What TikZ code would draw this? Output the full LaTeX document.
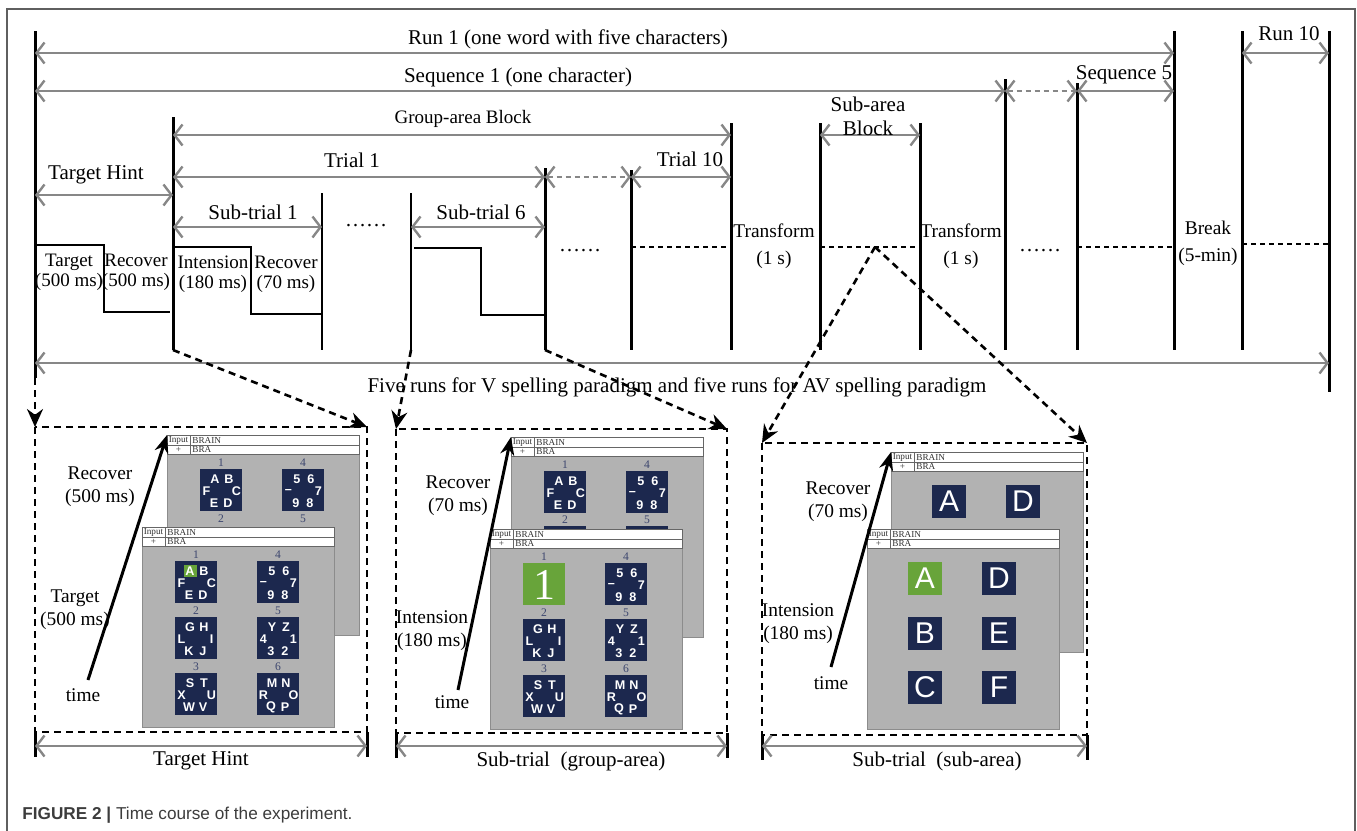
\documentclass[tikz,border=0pt]{standalone}
\usepackage{fontspec}
\setmainfont{Liberation Serif}
\setsansfont{Liberation Sans}
\usetikzlibrary{arrows.meta,positioning,calc}
\definecolor{spangray}{RGB}{135,135,135}
\definecolor{tilenavy}{RGB}{28,40,78}
\definecolor{hlgreen}{RGB}{104,164,58}
\definecolor{scrgray}{RGB}{178,178,178}
\definecolor{scrline}{RGB}{140,140,140}
\definecolor{numslate}{RGB}{60,70,110}
\definecolor{framegray}{RGB}{95,95,95}
\definecolor{capgray}{RGB}{60,60,60}
\newcommand{\grouprest}{4/1/0/5/6/7/8/9/\textendash, 2/0/1/G/H/I/J/K/L, 5/1/1/Y/Z/1/2/3/4, 3/0/2/S/T/U/V/W/X, 6/1/2/M/N/O/P/Q/R}

\begin{document}
\begin{tikzpicture}[x=0.5pt, y=-0.5pt,
    >={Straight Barb[length=4pt,width=10.5pt]},
    vline/.style={line width=1.5pt},
    vthin/.style={line width=0.9pt},
    span/.style={draw=spangray, line width=1.2pt, <->},
    spandash/.style={span, dash pattern=on 2.5pt off 2pt},
    wave/.style={line width=1.3pt},
    idle/.style={line width=1.4pt, dash pattern=on 2.5pt off 2pt},
    zoomline/.style={line width=1.3pt, dash pattern=on 3.5pt off 2.5pt, -{Stealth[length=9pt,width=8pt]}},
    panel/.style={line width=1.3pt, dash pattern=on 3.5pt off 2.5pt},
    timearr/.style={line width=1.5pt, -{Stealth[length=9pt,width=7pt]}},
    toplabel/.style={font=\fontsize{10.5}{12}\selectfont, inner sep=0pt},
    steplabel/.style={font=\fontsize{9.5}{10}\selectfont, align=center, inner sep=0pt},
    waitlabel/.style={font=\fontsize{9.7}{13.5}\selectfont, align=center, inner sep=0pt},
    plabel/.style={font=\fontsize{9.7}{11.5}\selectfont, align=center, inner sep=0pt},
    hdrtext/.style={font=\fontsize{4.6}{5}\selectfont, inner sep=0pt, text=black!80},
    hdrline/.style={draw=black!60, line width=0.3pt},
    tnum/.style={font=\fontsize{5.8}{6}\selectfont, text=numslate, inner sep=0pt},
    tchar/.style={font=\fontsize{6.3}{6}\sffamily\bfseries, text=white, inner sep=0pt},
    schar/.style={font=\fontsize{15}{15}\sffamily, text=white, inner sep=0pt},
    bigone/.style={font=\fontsize{22}{22}\selectfont, text=white, inner sep=0pt},
    screen/.pic={
      \coordinate (-nw) at (0,0);
      \fill[scrgray] (0,0) rectangle (192,200);
      \draw[draw=scrline, line width=0.4pt] (0,0) rectangle (192,200);
      \draw[hdrline, fill=white] (0,0) rectangle (192,10);
      \draw[hdrline, fill=white] (0,10) rectangle (192,19);
      \draw[hdrline] (23,0) -- (23,19);
      \node[hdrtext] (-in) at (11.5,5) {Input};
      \node[hdrtext, anchor=west] (-word) at (25,5) {BRAIN};
      \node[hdrtext] (-plus) at (11.5,14.5) {+};
      \node[hdrtext, anchor=west] (-typed) at (25,14.5) {BRA};
    },
    pics/gtile/.style n args={8}{code={
      \fill[tilenavy] (0,0) rectangle (42,42);
      \path[fill=#8] (8.5,4) rectangle (21.5,16);
      \node[tnum] (-num) at (21,-6.5) {#1};
      \node[tchar] (-a) at (15,10) {#2};
      \node[tchar] (-b) at (29,10) {#3};
      \node[tchar] (-c) at (36.5,22) {#4};
      \node[tchar] (-d) at (28,34) {#5};
      \node[tchar] (-e) at (14,34) {#6};
      \node[tchar] (-f) at (6.5,22) {#7};
    }},
    pics/stile/.style 2 args={code={
      \path[fill=#1] (0,0) rectangle (34,33);
      \node[schar] (-ch) at (17,16.5) {#2};
    }}
]
\useasboundingbox (0,0) rectangle (1357,831);

% outer frame
\draw[draw=framegray, line width=0.7pt] (7,831) -- (7,9) -- (1355,9) -- (1355,831);

% vertical marks of the time line
\foreach \n/\x/\t/\b in {A/35/31/378, B/173/117/350, E/545/168/350, F/631/170/350,
    G/731/123/350, H/820/123/350, I/920/123/350, J/1005/79/350, K/1077/83/350,
    L/1174/31/350, M/1242/31/350, N/1329/31/392}{
  \coordinate (v\n) at (\x,\t);
  \coordinate (b\n) at (\x,\b);
  \draw[vline] (v\n) -- (b\n);
}
\foreach \n/\x in {C/322, D/411}{
  \coordinate (v\n) at (\x,193);
  \coordinate (b\n) at (\x,350);
  \draw[vthin] (v\n) -- (b\n);
}

% levels
\coordinate (yRun) at (0,53);
\coordinate (ySeq) at (0,91);
\coordinate (yBlk) at (0,135);
\coordinate (yTri) at (0,177);
\coordinate (yHint) at (0,195);
\coordinate (ySub) at (0,227);
\coordinate (yIdle) at (0,247);
\coordinate (yBreak) at (0,244);
\coordinate (yAll) at (0,363);
\coordinate (yFoot) at (0,746);

% spans
\draw[span] (vA |- yRun) -- (vL |- yRun);
\draw[span] (vM |- yRun) -- (vN |- yRun);
\draw[span] (vA |- ySeq) -- (vJ |- ySeq);
\draw[spandash] (vJ |- ySeq) -- (vK |- ySeq);
\draw[span] (vK |- ySeq) -- (vL |- ySeq);
\draw[span] (vB |- yBlk) -- (vG |- yBlk);
\draw[span] (vH |- yBlk) -- (vI |- yBlk);
\draw[span] (vB |- yTri) -- (vE |- yTri);
\draw[spandash] (vE |- yTri) -- (vF |- yTri);
\draw[span] (vF |- yTri) -- (vG |- yTri);
\draw[span] (vA |- yHint) -- (vB |- yHint);
\draw[span] (vB |- ySub) -- (vC |- ySub);
\draw[span] (vD |- ySub) -- (vE |- ySub);
\draw[span] (vA |- yAll) -- (vN |- yAll);

% span labels
\node[toplabel] (run1) at (568,39) {Run 1 (one word with five characters)};
\node[toplabel] (run10) at (1289,34) {Run 10};
\node[toplabel] (seq1) at (518,77) {Sequence 1 (one character)};
\node[toplabel] (seq5) at (1124,75) {Sequence 5};
\node[toplabel, font=\fontsize{9.5}{10}\selectfont] (grpblk) at (463,119) {Group-area Block};
\node[toplabel, align=center] (subblk) at (868,116) {Sub-area\\Block};
\node[toplabel] (trial1) at (352,160) {Trial 1};
\node[toplabel] (trial10) at (690,159) {Trial 10};
\node[toplabel] (hint) at (96,175) {Target Hint};
\node[toplabel] (sub1) at (253,212) {Sub-trial 1};
\node[toplabel] (sub6) at (481,212) {Sub-trial 6};
\node[toplabel] (allruns) at (677,387) {Five runs for V spelling paradigm and five runs for AV spelling paradigm};

% stimulus steps
\draw[wave] (35,245) -- (104,245) -- (104,312) -- (170,312);
\draw[wave] (173,247) -- (251,247) -- (251,314) -- (322,314);
\draw[wave] (414,248) -- (481,248) -- (481,315) -- (545,315);
\node[steplabel] (tgt) at (69,272) {Target\\(500 ms)};
\node[steplabel] (rec1) at (136,272) {Recover\\(500 ms)};
\node[steplabel] (int1) at (213,274) {Intension\\(180 ms)};
\node[steplabel] (rec2) at (286,274) {Recover\\(70 ms)};
\node[toplabel, anchor=base] (dots1) at (366,226) {……};
\node[toplabel, anchor=base] (dots2) at (580,251) {……};
\node[toplabel, anchor=base] (dots3) at (1040,251) {……};

% idle periods
\draw[idle] (vF |- yIdle) -- (vG |- yIdle);
\draw[idle] (vH |- yIdle) -- (vI |- yIdle);
\draw[idle] (vK |- yIdle) -- (vL |- yIdle);
\draw[idle] (vM |- yBreak) -- (vN |- yBreak);
\node[waitlabel] (tf1) at (774,246) {Transform\\(1 s)};
\node[waitlabel] (tf2) at (961,246) {Transform\\(1 s)};
\node[waitlabel] (brk) at (1208,243) {Break\\(5-min)};
\coordinate (apex) at (875,247);

% panels
\coordinate (p1a) at (35,427);
\coordinate (p1b) at (367,732);
\coordinate (p2a) at (396,429);
\coordinate (p2b) at (727,733);
\coordinate (p3a) at (762,443);
\coordinate (p3b) at (1087,735);
\foreach \p in {1,2,3}{
  \draw[panel] (p\p a) rectangle (p\p b);
  \draw[vline] (p\p a |- p\p b) -- ++(0,25);
  \draw[vline] (p\p b) -- ++(0,25);
  \draw[span] (p\p a |- yFoot) -- (p\p b |- yFoot);
}
\node[toplabel] (foot1) at (201,761) {Target Hint};
\node[toplabel] (foot2) at (571,761) {Sub-trial\ \ (group-area)};
\node[toplabel] (foot3) at (937,761) {Sub-trial\ \ (sub-area)};

% screens, target hint
\begin{scope}[shift={(167,435)}]
  \pic (bk1) at (0,0) {screen};
  \pic (bk1t1) at (33,34) {gtile={1}{A}{B}{C}{D}{E}{F}{tilenavy}};
  \pic (bk1t4) at (115,34) {gtile={4}{5}{6}{7}{8}{9}{\textendash}{tilenavy}};
  \node[tnum] (bk1n2) at (54,83.5) {2};
  \node[tnum] (bk1n5) at (136,83.5) {5};
\end{scope}
\begin{scope}[shift={(142,527)}]
  \pic (ft1) at (0,0) {screen};
  \pic (ft1t1) at (33,34) {gtile={1}{A}{B}{C}{D}{E}{F}{hlgreen}};
  \foreach \k/\cl/\rw/\ca/\cb/\cc/\cd/\ce/\cf in \grouprest
    \pic (ft1t\k) at (33+82*\cl,34+56*\rw) {gtile={\k}{\ca}{\cb}{\cc}{\cd}{\ce}{\cf}{tilenavy}};
\end{scope}

% screens, group-area sub-trial
\begin{scope}[shift={(511,437)}]
  \pic (bk2) at (0,0) {screen};
  \pic (bk2t1) at (33,34) {gtile={1}{A}{B}{C}{D}{E}{F}{tilenavy}};
  \pic (bk2t4) at (115,34) {gtile={4}{5}{6}{7}{8}{9}{\textendash}{tilenavy}};
  \fill[tilenavy] (33,89) rectangle (75,100);
  \fill[tilenavy] (115,89) rectangle (157,100);
  \node[tnum] (bk2n2) at (54,83) {2};
  \node[tnum] (bk2n5) at (136,83) {5};
\end{scope}
\begin{scope}[shift={(490,529)}]
  \pic (ft2) at (0,0) {screen};
  \fill[hlgreen] (33,34) rectangle (75,76);
  \node[tnum] (ft2n1) at (54,27.5) {1};
  \node[bigone] (one) at (54,55.5) {1};
  \foreach \k/\cl/\rw/\ca/\cb/\cc/\cd/\ce/\cf in \grouprest
    \pic (ft2t\k) at (33+82*\cl,34+56*\rw) {gtile={\k}{\ca}{\cb}{\cc}{\cd}{\ce}{\cf}{tilenavy}};
\end{scope}

% screens, sub-area sub-trial
\begin{scope}[shift={(891,452)}]
  \pic (bk3) at (0,0) {screen};
  \pic (bk3A) at (41,33) {stile={tilenavy}{A}};
  \pic (bk3D) at (115,33) {stile={tilenavy}{D}};
\end{scope}
\begin{scope}[shift={(867,529)}]
  \pic (ft3) at (0,0) {screen};
  \foreach \cl/\rw/\fc/\lt in {0/0/hlgreen/A, 1/0/tilenavy/D, 0/1/tilenavy/B,
      1/1/tilenavy/E, 0/2/tilenavy/C, 1/2/tilenavy/F}
    \pic (ft3\lt) at (41+74*\cl,33+54.5*\rw) {stile={\fc}{\lt}};
\end{scope}

% time arrows
\node[plabel] (recp1) at (100,487) {Recover\\(500 ms)};
\node[plabel] (tgtp1) at (75,610) {Target\\(500 ms)};
\node[plabel] (time1) at (83,695) {time};
\coordinate (tail1) at (88,680);
\draw[timearr] (tail1) -- (bk1-nw);
\node[plabel] (recp2) at (458,496) {Recover\\(70 ms)};
\node[plabel] (intp2) at (432,631) {Intension\\(180 ms)};
\node[plabel] (time2) at (452,702) {time};
\coordinate (tail2) at (458,690);
\draw[timearr] (tail2) -- (bk2-nw);
\node[plabel] (recp3) at (838,502) {Recover\\(70 ms)};
\node[plabel] (intp3) at (798,624) {Intension\\(180 ms)};
\node[plabel] (time3) at (831,683) {time};
\coordinate (tail3) at (831,667);
\draw[timearr] (tail3) -- (bk3-nw);

% zoom connectors
\draw[zoomline] (bA) -- (p1a);
\draw[zoomline] (bB) -- (p1a -| p1b);
\draw[zoomline] (bD) -- (p2a);
\draw[zoomline] (bE) -- (p2a -| p2b);
\draw[zoomline] (apex) -- (p3a);
\draw[zoomline] (apex) -- (p3a -| p3b);

% caption
\node[anchor=west, inner sep=0pt, font=\fontsize{8.6}{10}\sffamily, text=capgray] (caption) at (22,815) {\textbf{FIGURE 2 |} Time course of the experiment.};
\end{tikzpicture}
\end{document}
